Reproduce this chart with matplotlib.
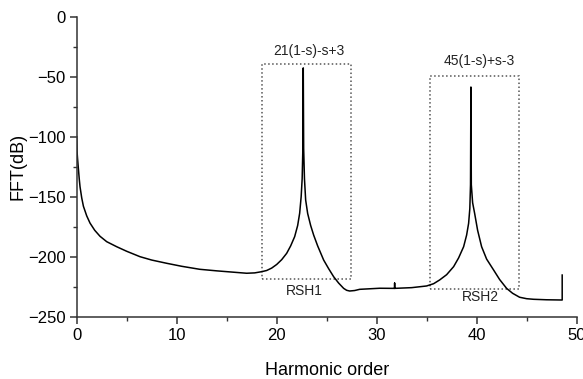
import matplotlib.pyplot as plt
from matplotlib.ticker import MultipleLocator
from matplotlib.patches import Rectangle

plt.rcParams['font.family'] = ['Liberation Sans', 'DejaVu Sans']

# spectrum read as (harmonic order, dB) pairs
harmonic = [0.0, 0.03, 0.08, 0.16, 0.25, 0.33, 0.5, 0.67, 1.0, 1.33, 1.8, 2.33,
            3.0, 4.0, 5.0, 6.33, 7.5, 9.0, 10.5, 12.3, 14.0, 15.5, 17.0, 17.8,
            18.5, 19.0, 19.5, 20.0, 20.5, 21.0, 21.4, 21.8, 22.1, 22.3, 22.45,
            22.55, 22.62, 22.66, 22.7, 22.78, 22.9, 23.1, 23.4, 23.7, 24.1,
            24.7, 25.2, 25.7, 26.2, 26.7, 27.0, 27.3, 27.8, 28.3, 30.3, 31.7,
            31.8, 31.8, 31.8, 33.5, 35.0, 35.7, 36.3, 37.0, 37.7, 38.2, 38.7,
            39.0, 39.2, 39.32, 39.39, 39.43, 39.47, 39.6, 39.8, 40.1, 40.5,
            41.0, 41.7, 42.3, 43.0, 43.6, 44.3, 45.0, 45.7, 47.0, 48.56, 48.56]
fft_db = [-100, -112, -118, -126, -135, -141.7, -151, -158, -166, -172, -178,
          -183, -187.5, -191.7, -195.5, -200, -202.8, -205.5, -208, -210.5,
          -211.8, -212.8, -213.8, -213.5, -212.5, -211.5, -209.5, -206.5,
          -202.5, -197.2, -191, -183.3, -174, -163.8, -150, -135, -110, -42.7,
          -110, -135, -152.8, -164, -174, -182, -191, -202.8, -210, -216.7,
          -222, -226.4, -228, -228.6, -228.2, -227.2, -226.3, -226.4, -226.4,
          -222, -226.4, -225.8, -224.4, -222.5, -219.4, -215, -208.3, -201,
          -191.7, -182, -172.2, -160, -140, -58.6, -140, -155, -163.8, -178,
          -191.7, -202, -211.1, -219, -226.4, -230.5, -233.8, -235, -235.5,
          -235.9, -236.1, -215.3]

# dotted boxes around the rotor slot harmonics: (x0, x1, y0, y1)
rsh_boxes = [(18.56, 27.4, -218.7, -39.4), (35.3, 44.2, -227.0, -49.2)]
rsh_names = ['RSH1', 'RSH2']
rsh_formulas = ['21(1-s)-s+3', '45(1-s)+s-3']
name_pos = [(22.8, -228.6), (40.4, -233.8)]
formula_pos = [(23.2, -28.6), (40.3, -36.7)]

fig = plt.figure(figsize=(5.83, 3.79), dpi=100)
ax = fig.add_axes([0.1316, 0.1644, 0.8574, 0.7916])

ax.plot(harmonic, fft_db, color='black', lw=1.1, solid_joinstyle='round')

for (x0, x1, y0, y1) in rsh_boxes:
    ax.add_patch(Rectangle((x0, y0), x1 - x0, y1 - y0, fill=False,
                           ls=(0, (1, 1.6)), lw=1.1, ec='#555555'))
for name, (x, y) in zip(rsh_names, name_pos):
    ax.text(x, y, name, ha='center', va='center', fontsize=10, color='#222222')
for f, (x, y) in zip(rsh_formulas, formula_pos):
    ax.text(x, y, f, ha='center', va='center', fontsize=10, color='#222222')

ax.set_xlim(0, 50)
ax.set_ylim(-250, 0)
ax.xaxis.set_major_locator(MultipleLocator(10))
ax.xaxis.set_minor_locator(MultipleLocator(5))
ax.yaxis.set_major_locator(MultipleLocator(50))
ax.yaxis.set_minor_locator(MultipleLocator(25))

for side in ['top', 'right']:
    ax.spines[side].set_visible(False)
for side in ['left', 'bottom']:
    ax.spines[side].set_color('#333333')
    ax.spines[side].set_linewidth(1.1)

ax.tick_params(which='major', direction='out', length=5, width=1.1,
               color='#333333', labelsize=12, pad=3)
ax.tick_params(which='minor', direction='out', length=3, width=1.0,
               color='#333333')

ax.set_xlabel('Harmonic order', fontsize=13, labelpad=14)
ax.set_ylabel('FFT(dB)', fontsize=13, labelpad=1)

fig.savefig('out.png', dpi=100)
